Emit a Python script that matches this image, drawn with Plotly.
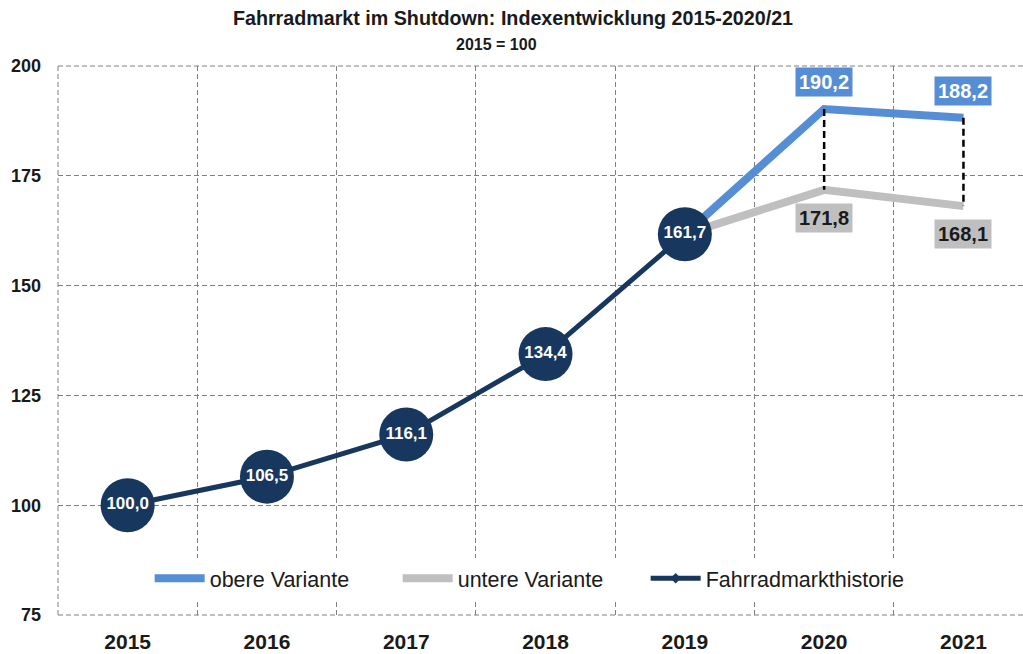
import plotly.graph_objects as go

years = [2015, 2016, 2017, 2018, 2019, 2020, 2021]
history = [100.0, 106.5, 116.1, 134.4, 161.7, None, None]
upper = [None, None, None, None, 161.7, 190.2, 188.2]
lower = [None, None, None, None, 161.7, 171.8, 168.1]
y_ticks = [75, 100, 125, 150, 175, 200]

def de(v):
    return f"{v:.1f}".replace(".", ",")

DARK = "#17375e"
BLUE = "#558ed5"
GRAY = "#bfbfbf"
GRID = "#7f7f7f"
TXT = "#1a1a1a"
FONT = "Liberation Sans, Arial, sans-serif"

fig = go.Figure()

fig.add_trace(go.Scatter(x=years, y=upper, mode="lines", name="obere Variante",
                         line=dict(color=BLUE, width=8), legendwidth=183))
fig.add_trace(go.Scatter(x=years, y=lower, mode="lines", name="untere Variante",
                         line=dict(color=GRAY, width=8), legendwidth=183))

# drop lines between variants
dx, dy = [], []
for x, u, l in zip(years, upper, lower):
    if u is not None and l is not None and x != 2019:
        dx += [x, x, None]
        dy += [u, l, None]
fig.add_trace(go.Scatter(x=dx, y=dy, mode="lines", showlegend=False, hoverinfo="skip",
                         line=dict(color="black", width=2.5, dash="7px,4px")))

fig.add_trace(go.Scatter(x=years, y=history, mode="lines+markers", name="Fahrradmarkthistorie",
                         line=dict(color=DARK, width=5), legendwidth=260,
                         marker=dict(color=DARK, size=8, symbol="diamond")))
fig.add_trace(go.Scatter(x=years, y=history, mode="markers+text", showlegend=False,
                         marker=dict(color=DARK, size=54),
                         text=[de(v) if v is not None else "" for v in history],
                         textposition="middle center",
                         textfont=dict(color="white", size=17, family=FONT, weight="bold")))

# labels for variants
for x, u, l in zip(years, upper, lower):
    if x == 2019 or u is None:
        continue
    fig.add_annotation(x=x, y=u, text=f"<b>{de(u)}</b>", showarrow=False, yshift=27,
                       bgcolor=BLUE, font=dict(color="white", size=20, family=FONT),
                       borderpad=3)
    fig.add_annotation(x=x, y=l, text=f"<b>{de(l)}</b>", showarrow=False, yshift=-28,
                       bgcolor=GRAY, font=dict(color=TXT, size=20, family=FONT),
                       borderpad=3)

# dashed plot frame (left, top, bottom)
for x0, y0, x1, y1 in [(0, 0, 0, 1), (0, 1, 1.05, 1), (0, 0, 1.05, 0)]:
    fig.add_shape(type="line", xref="paper", yref="paper", x0=x0, y0=y0, x1=x1, y1=y1,
                  line=dict(color=GRID, width=1, dash="5px,3px"), layer="below")

fig.update_layout(
    width=1023, height=654,
    margin=dict(l=58, r=0, t=66, b=39),
    paper_bgcolor="white", plot_bgcolor="white",
    font=dict(family=FONT, color=TXT),
    title=dict(text="<b>Fahrradmarkt im Shutdown: Indexentwicklung 2015-2020/21</b>",
               x=(513) / 1023, xanchor="center", y=1 - 18 / 654, yanchor="middle",
               font=dict(size=19.7, family=FONT, color=TXT)),
    legend=dict(orientation="h", x=0.095, xanchor="left", y=0.067, yanchor="middle",
                bgcolor="white", font=dict(size=21.5, family=FONT, color=TXT),
                itemwidth=50),
    showlegend=True,
)
fig.add_annotation(xref="paper", yref="paper", x=(496 - 58) / 965, y=1 + 22 / 549,
                   text="<b>2015 = 100</b>", showarrow=False,
                   font=dict(size=16, family=FONT, color=TXT), yanchor="middle")

fig.update_xaxes(range=[2014.5, 2014.5 + 965 / 139.3], tickmode="array", tickvals=years,
                 ticktext=[str(y) for y in years], showgrid=False, zeroline=False, showline=False,
                 tickfont=dict(size=21, family=FONT, color=TXT, weight="bold"),
                 ticks="", ticklabelstandoff=12,
                 minor=dict(tick0=2014.5, dtick=1, showgrid=True, gridcolor=GRID,
                            griddash="5px,3px", gridwidth=1))
fig.update_yaxes(range=[75, 200], tickvals=y_ticks, showgrid=True, gridcolor=GRID,
                 griddash="5px,3px", gridwidth=1, zeroline=False, showline=False,
                 tickfont=dict(size=18, family=FONT, color=TXT, weight="bold"),
                 ticks="", ticklabelstandoff=16)

fig.write_html("out.html")
